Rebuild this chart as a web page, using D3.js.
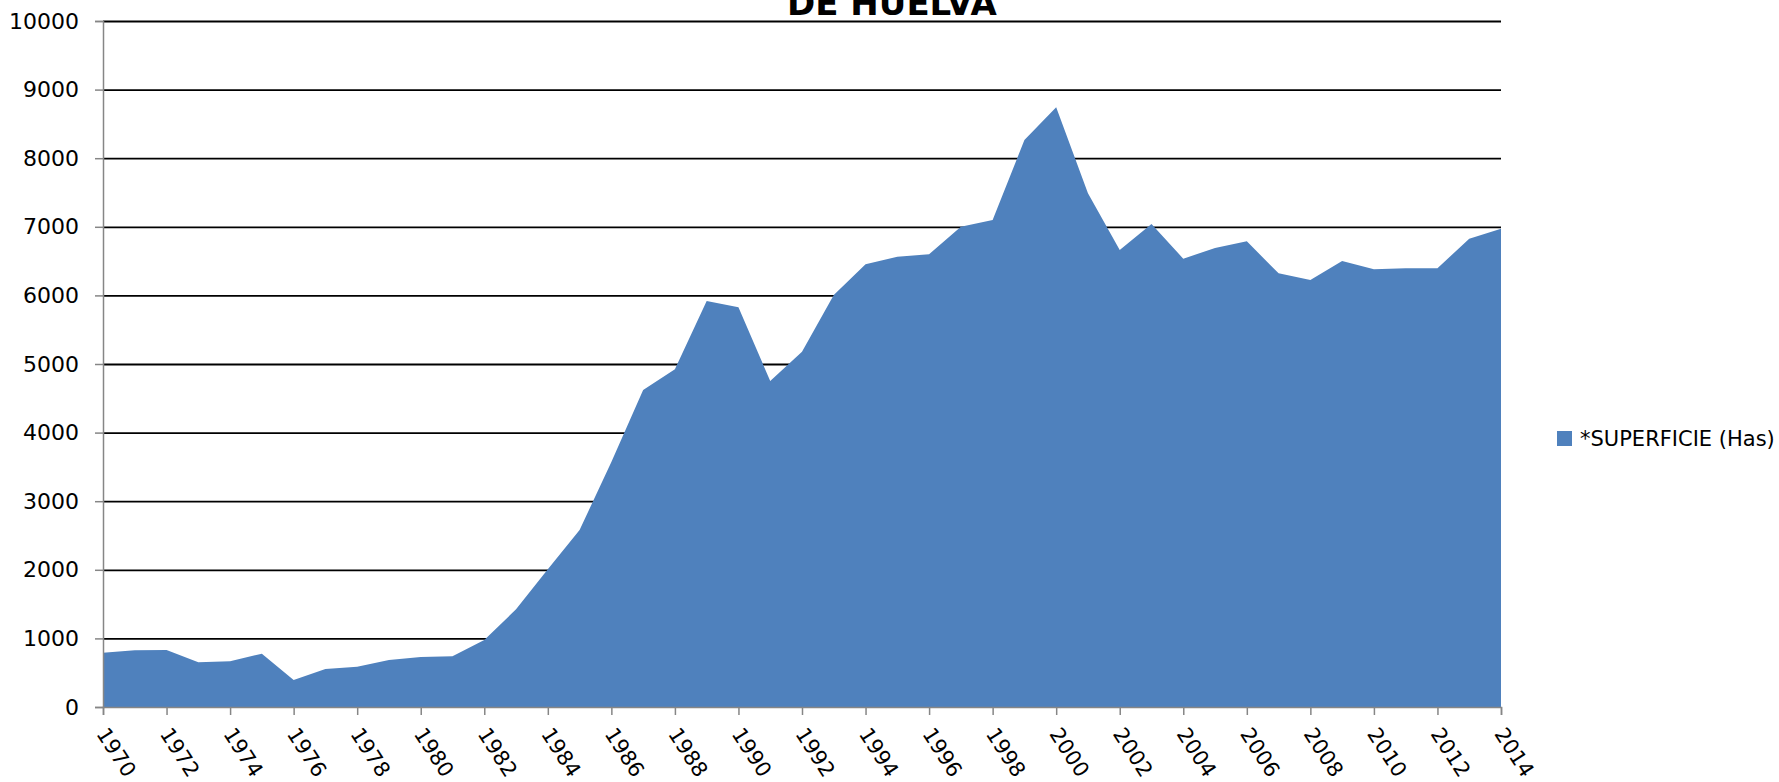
<!DOCTYPE html>
<html>
<head>
<meta charset="utf-8">
<script src="https://d3js.org/d3.v7.min.js"></script>
<style>
  body { margin: 0; background: #fff; }
  text { font-family: "DejaVu Sans", sans-serif; fill: #000; }
</style>
</head>
<body>
<div id="okvir"></div>
<script>
// podatci procitani sa slike
const godine = [1970, 1971, 1972, 1973, 1974, 1975, 1976, 1977, 1978, 1979,
  1980, 1981, 1982, 1983, 1984, 1985, 1986, 1987, 1988, 1989,
  1990, 1991, 1992, 1993, 1994, 1995, 1996, 1997, 1998, 1999,
  2000, 2001, 2002, 2003, 2004, 2005, 2006, 2007, 2008, 2009,
  2010, 2011, 2012, 2013, 2014];
const superficie = [791, 826, 831, 651, 666, 777, 394, 554, 588, 685,
  729, 739, 977, 1424, 2007, 2580, 3570, 4621, 4922, 5918,
  5826, 4752, 5180, 6006, 6453, 6565, 6599, 7002, 7099, 8265,
  8742, 7488, 6662, 7041, 6535, 6691, 6788, 6322, 6224, 6501,
  6380, 6395, 6395, 6827, 6973];
const yTicks = [0, 1000, 2000, 3000, 4000, 5000, 6000, 7000, 8000, 9000, 10000];
const xTicks = [1970, 1972, 1974, 1976, 1978, 1980, 1982, 1984, 1986, 1988, 1990,
  1992, 1994, 1996, 1998, 2000, 2002, 2004, 2006, 2008, 2010, 2012, 2014];
const naslov = "DE HUELVA";
const legenda = "*SUPERFICIE (Has)";

function crtaj() {
  const dimenzije = { sirina: 1779, visina: 782, lijevo: 103, desno: 1501, vrh: 21, dno: 707 };
  const boja = "#4F81BD";
  const sivo = "#868686";

  const okvir = d3.select("#okvir").append("svg")
    .attr("width", dimenzije.sirina)
    .attr("height", dimenzije.visina);

  const xSkala = d3.scaleLinear().domain([1970, 2014]).range([dimenzije.lijevo, dimenzije.desno]);
  const ySkala = d3.scaleLinear().domain([0, 10000]).range([dimenzije.dno, dimenzije.vrh]);

  // mreza
  okvir.append("g")
    .attr("transform", `translate(${dimenzije.lijevo},0)`)
    .call(d3.axisLeft(ySkala).tickValues(yTicks.slice(1)).tickSize(-(dimenzije.desno - dimenzije.lijevo)).tickFormat(""))
    .call(g => g.select(".domain").remove())
    .call(g => g.selectAll("line").attr("stroke", "#000").attr("stroke-width", 1.8));

  // povrsina
  const podatci = godine.map((g, i) => ({ godina: g, vrijednost: superficie[i] }));
  const povrsina = d3.area()
    .x(d => xSkala(d.godina))
    .y0(ySkala(0))
    .y1(d => ySkala(d.vrijednost));
  okvir.append("path")
    .datum(podatci)
    .attr("fill", boja)
    .attr("d", povrsina);

  // y os
  const yOs = okvir.append("g")
    .attr("transform", `translate(${dimenzije.lijevo},0)`)
    .call(d3.axisLeft(ySkala).tickValues(yTicks).tickSize(8).tickPadding(16).tickFormat(d3.format("d")));
  yOs.select(".domain").attr("stroke", sivo).attr("stroke-width", 1.5);
  yOs.selectAll("line").attr("stroke", sivo).attr("stroke-width", 1.5);
  yOs.selectAll("text").style("font-size", "22px").attr("fill", "#000");

  // x os
  const xOs = okvir.append("g")
    .attr("transform", `translate(0,${dimenzije.dno})`)
    .call(d3.axisBottom(xSkala).tickValues(xTicks).tickSize(8).tickFormat(d3.format("d")));
  xOs.select(".domain").attr("stroke", sivo).attr("stroke-width", 1.5);
  xOs.selectAll("line").attr("stroke", sivo).attr("stroke-width", 1.5);
  xOs.selectAll("text")
    .style("font-size", "21px")
    .attr("fill", "#000")
    .attr("text-anchor", "start")
    .attr("dominant-baseline", "central")
    .attr("y", null)
    .attr("dy", null)
    .attr("transform", "translate(-2,23) rotate(57)");

  // naslov (odrezan na vrhu, kao na izvorniku)
  okvir.append("text")
    .attr("x", 892)
    .attr("y", 15)
    .attr("text-anchor", "middle")
    .style("font-size", "34px")
    .style("font-weight", "bold")
    .text(naslov);

  // legenda
  okvir.append("rect")
    .attr("x", 1557).attr("y", 431)
    .attr("width", 15).attr("height", 15)
    .attr("fill", boja);
  okvir.append("text")
    .attr("x", 1580).attr("y", 439)
    .attr("dominant-baseline", "central")
    .style("font-size", "21px")
    .text(legenda);
}
crtaj();
</script>
</body>
</html>
